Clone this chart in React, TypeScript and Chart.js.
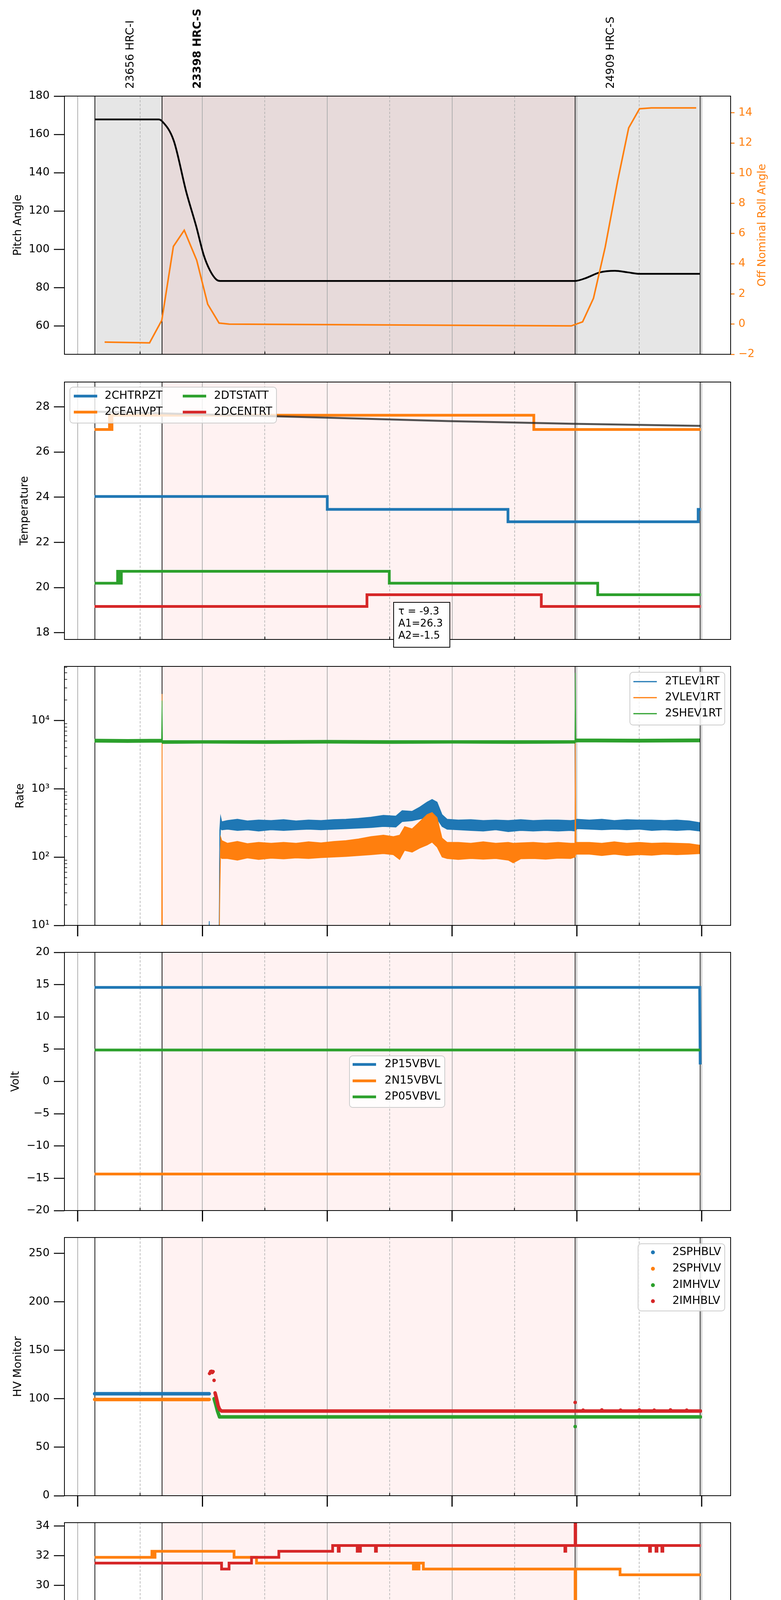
import { useEffect, useRef } from 'react';
import { Chart, registerables } from 'chart.js';
Chart.register(...registerables);

const FONT = '"DejaVu Sans", sans-serif';
const BLUE = '#1f77b4';
const ORANGE = '#ff7f0e';
const GREEN = '#2ca02c';
const RED = '#d62728';

Chart.defaults.font.family = FONT;
Chart.defaults.font.size = 28;
Chart.defaults.color = '#000';

// time axis in hours after 08:00
const X_MIN = -0.106;
const X_MAX = 5.232;
const gridT = [0, 0.5, 1, 1.5, 2, 2.5, 3, 3.5, 4, 4.5, 5];
const hourLabels = ['08h', '09h', '10h', '11h', '12h', '13h'];
const halfLabel = '30';
const dateLabel = '2020-12-22 (357)';

// observations
const obsStart = [0.138, 0.676, 3.986];
const obsEnd = [0.676, 3.986, 4.988];
const obsNames = ['23656 HRC-I', '23398 HRC-S', '24909 HRC-S'];
const obsLabelT = [0.426, 0.964, 4.274];
const focusObs = 1;

// panel 1: attitude
const pitchT = [0.135, 0.648, 0.676, 0.77, 0.87, 0.95, 1.01, 1.06, 1.11, 1.14, 3.986, 4.068, 4.186, 4.305, 4.405, 4.506, 4.984];
const pitchV = [167.8, 167.8, 166.9, 156.7, 130, 112, 97, 89, 84.3, 83.5, 83.5, 84.9, 88.0, 88.8, 88.0, 87.2, 87.2];
const rollT = [0.216, 0.576, 0.674, 0.767, 0.854, 0.954, 1.042, 1.133, 1.214, 3.955, 4.046, 4.133, 4.227, 4.327, 4.415, 4.502, 4.596, 4.956];
const rollV = [-1.19, -1.24, 0.25, 5.15, 6.22, 4.23, 1.32, 0.07, 0.0, -0.12, 0.15, 1.71, 5.1, 9.5, 13.0, 14.27, 14.33, 14.33];

// panel 2: temperature
const chtrpzT = [0.135, 2.0, 3.448, 4.972, 4.993];
const chtrpzV = [24.03, 23.46, 22.91, 23.46, 23.46];
const ceahvpT = [0.135, 0.255, 0.262, 0.275, 3.655, 4.993];
const ceahvpV = [27.0, 27.63, 27.0, 27.63, 27.0, 27.0];
const dtstatT = [0.135, 0.32, 0.335, 0.35, 2.497, 4.167, 4.993];
const dtstatV = [20.19, 20.72, 20.19, 20.72, 20.19, 19.68, 19.68];
const dcentrT = [0.135, 2.318, 3.715, 4.993];
const dcentrV = [19.16, 19.68, 19.16, 19.16];
const fitT = [0.136, 1.532, 2.0, 2.97, 3.986, 4.993];
const fitV = [27.79, 27.59, 27.52, 27.37, 27.25, 27.16];
const fitText = ['\u03c4 = -9.3', 'A1=26.3', 'A2=-1.5'];

// panel 3: rates (noise envelope low / high)
const tlevT = [1.05, 1.054, 1.058, 1.133, 1.138, 1.145, 1.155, 1.2, 1.28, 1.36, 1.45, 1.55, 1.65, 1.75, 1.85, 1.95, 2.05, 2.15, 2.25, 2.35, 2.45, 2.55, 2.6, 2.68, 2.74, 2.8, 2.84, 2.88, 2.92, 2.96, 3.05, 3.15, 3.25, 3.35, 3.45, 3.55, 3.65, 3.75, 3.85, 3.95, 3.985, 4.0, 4.1, 4.2, 4.3, 4.4, 4.5, 4.6, 4.7, 4.8, 4.9, 4.985];
const tlevLo = [5, 11.5, 5, 5, 120, 260, 250, 255, 245, 250, 240, 250, 245, 250, 255, 250, 255, 260, 265, 270, 280, 275, 330, 340, 360, 380, 400, 360, 280, 255, 250, 245, 240, 250, 235, 245, 240, 245, 240, 245, 240, 260, 255, 250, 255, 250, 255, 245, 250, 245, 250, 240];
const tlevHi = [5, 11.5, 5, 5, 250, 400, 330, 345, 360, 340, 350, 345, 355, 340, 350, 345, 355, 360, 370, 385, 410, 400, 480, 470, 540, 640, 700, 640, 420, 360, 350, 355, 345, 350, 345, 355, 345, 350, 350, 345, 350, 360, 350, 360, 345, 355, 350, 350, 345, 350, 340, 320];
const vlevT = [0.672, 0.676, 0.68, 1.133, 1.138, 1.145, 1.155, 1.2, 1.28, 1.36, 1.45, 1.55, 1.65, 1.75, 1.85, 1.95, 2.05, 2.15, 2.25, 2.35, 2.45, 2.53, 2.58, 2.62, 2.68, 2.74, 2.8, 2.84, 2.88, 2.92, 2.96, 3.05, 3.15, 3.25, 3.35, 3.45, 3.49, 3.55, 3.65, 3.75, 3.85, 3.95, 3.984, 3.988, 3.992, 4.1, 4.2, 4.3, 4.4, 4.5, 4.6, 4.7, 4.8, 4.9, 4.985];
const vlevLo = [1, 1, 1, 1, 20, 100, 95, 95, 90, 97, 92, 96, 94, 97, 95, 98, 100, 102, 105, 108, 112, 108, 92, 125, 118, 135, 150, 165, 140, 100, 95, 92, 95, 93, 95, 90, 82, 94, 95, 93, 96, 95, 100, 100, 110, 110, 105, 110, 105, 108, 106, 110, 108, 110, 112];
const vlevHi = [1, 24500, 1, 1, 30, 200, 175, 160, 170, 158, 165, 160, 165, 160, 168, 162, 170, 175, 185, 200, 210, 200, 210, 280, 260, 330, 420, 450, 380, 190, 165, 165, 160, 168, 160, 165, 160, 162, 165, 160, 165, 160, 160, 5000, 165, 165, 160, 168, 160, 165, 160, 162, 160, 158, 150];
const shevT = [0.135, 0.4, 0.672, 0.676, 0.68, 1.0, 1.5, 2.0, 2.5, 3.0, 3.5, 3.984, 3.988, 3.992, 4.5, 4.985];
const shevLo = [4800, 4750, 4800, 4700, 4600, 4650, 4600, 4650, 4600, 4650, 4600, 4650, 4700, 4850, 4800, 4850];
const shevHi = [5350, 5300, 5350, 19600, 5100, 5100, 5100, 5150, 5100, 5100, 5100, 5100, 50000, 5400, 5350, 5400];

// panel 4: voltages
const p15T = [0.135, 4.984, 4.988];
const p15V = [14.57, 14.57, 2.63];
const n15T = [0.135, 4.988];
const n15V = [-14.34, -14.34];
const p05T = [0.135, 4.988];
const p05V = [4.87, 4.87];

// panel 5: HV monitors
const sphbT = [0.136, 1.054];
const sphbV = [105.1, 105.1];
const sphvT = [0.136, 1.054];
const sphvV = [99.2, 99.2];
const imhvlT = [1.093, 1.105, 1.121, 1.137, 4.99];
const imhvlV = [100, 94.7, 87, 81.2, 81.2];
const imhvlOutT = [3.986];
const imhvlOutV = [71.3];
const imhblT = [1.101, 1.109, 1.117, 1.125, 1.137, 1.153, 4.99];
const imhblV = [106, 102, 97.7, 93, 89, 87.3, 87.3];
const imhblOutT = [1.057, 1.065, 1.073, 1.079, 1.085, 1.093, 3.986, 4.05, 4.2, 4.35, 4.5, 4.62, 4.75, 4.88];
const imhblOutV = [126, 128, 128.3, 127, 128, 118.9, 96.2, 88.2, 88.4, 88.2, 88.4, 88.2, 88.4, 88.2];

// panel 6: detector temperatures
const spinT = [0.136, 3.986, 3.992, 4.993];
const spinV = [18.28, 16.0, 18.28, 18.28];
const sphvaT = [0.136, 0.595, 0.605, 0.62, 1.253, 1.433, 2.69, 2.7, 2.72, 2.735, 2.77, 3.986, 3.99, 4.346, 4.993];
const sphvaV = [31.89, 32.3, 31.89, 32.3, 31.89, 31.5, 31.1, 31.5, 31.1, 31.5, 31.1, 28.65, 31.1, 30.71, 30.71];
const iminT = [0.136, 0.2155, 0.225, 0.235, 0.25, 0.258, 0.3, 0.31, 3.535, 3.545, 3.645, 3.655, 3.699, 3.71, 3.73, 3.74, 3.787, 3.986, 3.99, 4.993];
const iminV = [19.63, 20.3, 19.63, 20.3, 19.63, 20.3, 19.63, 20.3, 19.63, 20.3, 19.63, 20.3, 19.63, 20.3, 19.63, 20.3, 19.63, 28.65, 19.63, 19.63];
const imhvaT = [0.136, 1.153, 1.213, 1.393, 1.612, 2.043, 2.088, 2.096, 2.24, 2.248, 2.258, 2.266, 2.386, 2.394, 3.904, 3.911, 3.986, 3.99, 4.582, 4.59, 4.634, 4.642, 4.681, 4.689, 4.993];
const imhvaV = [31.5, 31.1, 31.5, 31.89, 32.3, 32.69, 32.3, 32.69, 32.3, 32.69, 32.3, 32.69, 32.3, 32.69, 32.3, 32.69, 35.0, 32.69, 32.3, 32.69, 32.3, 32.69, 32.3, 32.69, 32.69];

// panel 7: FEA temperatures
const fhtT = [0.136, 1.86, 2.682, 3.556, 4.498, 4.993];
const fhtV = [23.48, 22.91, 22.37, 21.81, 21.26, 21.26];
const fradT = [0.136, 0.794, 0.854, 1.161, 1.453, 1.912, 2.57, 3.348, 4.194, 4.905, 4.993];
const fradV = [19.17, 19.72, 19.17, 18.65, 18.15, 17.65, 17.16, 16.67, 16.19, 15.71, 15.71];
const fepT = [0.136, 1.812, 3.169, 3.986, 3.99, 4.566, 4.993];
const fepV = [25.39, 24.63, 23.87, 28.0, 23.87, 23.13, 23.13];
const fe00T = [0.136, 1.257, 1.262, 1.313, 1.318, 1.421, 1.426, 1.497, 1.502, 1.632, 1.637, 1.68, 1.685, 1.716, 1.721, 1.852, 1.857, 1.88, 1.885, 1.92, 1.925, 2.043, 2.243, 2.248, 2.474, 2.479, 2.658, 2.857, 2.862, 2.913, 2.918, 3.308, 3.448, 3.453, 3.532, 3.537, 3.986, 3.99, 4.015, 4.02, 4.653, 4.697, 4.702, 4.993];
const fe00V = [23.3, 22.91, 23.3, 24.35, 23.3, 23.68, 23.0, 24.35, 23.0, 21.04, 23.0, 22.6, 23.0, 22.6, 23.0, 22.3, 23.0, 21.96, 23.0, 21.96, 23.0, 22.65, 22.3, 22.65, 23.04, 22.65, 22.35, 22.7, 22.35, 23.04, 22.35, 22.04, 22.7, 22.04, 21.65, 22.04, 14.0, 21.71, 22.39, 21.71, 21.41, 21.76, 21.41, 21.41];

const zip = (t: number[], v: number[]) => t.map((x, i) => ({ x, y: v[i] }));

function step(label: string, t: number[], v: number[], color: string, width = 7, stepped: any = true) {
  return { label, data: zip(t, v), borderColor: color, backgroundColor: color, borderWidth: width, pointRadius: 0, fill: false, stepped };
}

function band(label: string, t: number[], lo: number[], hi: number[], color: string) {
  return [
    { label: label + '-lo', data: zip(t, lo), borderColor: color, borderWidth: 1.5, pointRadius: 0, fill: false },
    { label, data: zip(t, hi), borderColor: color, backgroundColor: color, borderWidth: 1.5, pointRadius: 0, fill: '-1' },
  ];
}

function dots(label: string, t: number[], v: number[], color: string) {
  return { label, data: zip(t, v), borderColor: color, backgroundColor: color, borderWidth: 9, borderCapStyle: 'round', borderJoinStyle: 'round', pointRadius: 0, fill: false };
}

function loose(label: string, t: number[], v: number[], color: string) {
  return { label, data: zip(t, v), showLine: false, pointRadius: 4.5, pointBorderWidth: 0, pointBackgroundColor: color, borderColor: color };
}

const one = (rows: number[]) => rows.map((_, i) => [0, i]);

const panels: any[] = [
  {
    top: 246, bottom: 907, cTop: 0, cBot: 945, yMin: 45.2, yMax: 180, yTicks: [60, 80, 100, 120, 140, 160, 180],
    title: 'Pitch Angle', titleX: 47, grey: true, obsText: true, right: true,
    datasets: [
      { label: 'Pitch', data: zip(pitchT, pitchV), borderColor: '#000', borderWidth: 4.5, pointRadius: 0, cubicInterpolationMode: 'monotone', yAxisID: 'y' },
      { label: 'Roll', data: zip(rollT, rollV), borderColor: ORANGE, borderWidth: 4, pointRadius: 0, yAxisID: 'y1' },
    ],
  },
  {
    top: 978, bottom: 1637, cTop: 940, cBot: 1690, yMin: 17.7, yMax: 29.1, yTicks: [18, 20, 22, 24, 26, 28],
    title: 'Temperature', titleX: 64, note: true,
    datasets: [
      step('2CHTRPZT', chtrpzT, chtrpzV, BLUE),
      step('2CEAHVPT', ceahvpT, ceahvpV, ORANGE),
      step('2DTSTATT', dtstatT, dtstatV, GREEN),
      step('2DCENTRT', dcentrT, dcentrV, RED),
      { label: 'fit', data: zip(fitT, fitV), borderColor: 'rgba(40,40,40,0.8)', borderWidth: 5, pointRadius: 0 },
    ],
    items: [['2CHTRPZT', BLUE], ['2CEAHVPT', ORANGE], ['2DTSTATT', GREEN], ['2DCENTRT', RED]],
    legend: { box: [179, 991, 708, 1083], cols: [[189, 268], [468, 548]], rows: [1014, 1055], slots: [[0, 0], [0, 1], [1, 0], [1, 1]], lw: 7 },
  },
  {
    top: 1706, bottom: 2369, cTop: 1670, cBot: 2420, yMin: 10, yMax: 62000, yTicks: [10, 100, 1000, 10000], log: true,
    title: 'Rate', titleX: 53, major: true,
    datasets: [
      ...band('2TLEV1RT', tlevT, tlevLo, tlevHi, BLUE),
      ...band('2VLEV1RT', vlevT, vlevLo, vlevHi, ORANGE),
      ...band('2SHEV1RT', shevT, shevLo, shevHi, GREEN),
    ],
    items: [['2TLEV1RT', BLUE], ['2VLEV1RT', ORANGE], ['2SHEV1RT', GREEN]],
    legend: { box: [1613, 1721, 1856, 1856], cols: [[1622, 1703]], rows: [1745, 1786, 1827], slots: one([0, 1, 2]), lw: 3 },
  },
  {
    top: 2438, bottom: 3099, cTop: 2400, cBot: 3150, yMin: -20, yMax: 20, yTicks: [-20, -15, -10, -5, 0, 5, 10, 15, 20],
    title: 'Volt', titleX: 41, major: true,
    datasets: [
      step('2P15VBVL', p15T, p15V, BLUE, 7, false),
      step('2N15VBVL', n15T, n15V, ORANGE, 7, false),
      step('2P05VBVL', p05T, p05V, GREEN, 7, false),
    ],
    items: [['2P15VBVL', BLUE], ['2N15VBVL', ORANGE], ['2P05VBVL', GREEN]],
    legend: { box: [895, 2703, 1139, 2835], cols: [[903, 985]], rows: [2725, 2767, 2808], slots: one([0, 1, 2]), lw: 7 },
  },
  {
    top: 3168, bottom: 3829, cTop: 3130, cBot: 3880, yMin: 0, yMax: 266.2, yTicks: [0, 50, 100, 150, 200, 250],
    title: 'HV Monitor', titleX: 47, major: true,
    datasets: [
      dots('2SPHBLV', sphbT, sphbV, BLUE),
      dots('2SPHVLV', sphvT, sphvV, ORANGE),
      dots('2IMHVLV', imhvlT, imhvlV, GREEN),
      loose('2IMHVLV-x', imhvlOutT, imhvlOutV, GREEN),
      dots('2IMHBLV', imhblT, imhblV, RED),
      loose('2IMHBLV-x', imhblOutT, imhblOutV, RED),
    ],
    items: [['2SPHBLV', BLUE], ['2SPHVLV', ORANGE], ['2IMHVLV', GREEN], ['2IMHBLV', RED]],
    legend: { box: [1634, 3184, 1856, 3356], cols: [[1672, 1722]], rows: [3206, 3248, 3290, 3331], slots: one([0, 1, 2, 3]), dot: true },
  },
  {
    top: 3898, bottom: 4559, cTop: 3860, cBot: 4610, yMin: 16.8, yMax: 34.23, yTicks: [18, 20, 22, 24, 26, 28, 30, 32, 34],
    title: 'Detector Temp', titleX: 64, major: true,
    datasets: [
      step('2SPINATM', spinT, spinV, BLUE),
      step('2SPHVATM', sphvaT, sphvaV, ORANGE),
      step('2IMINATM', iminT, iminV, GREEN),
      step('2IMHVATM', imhvaT, imhvaV, RED),
    ],
    items: [['2SPINATM', BLUE], ['2SPHVATM', ORANGE], ['2IMINATM', GREEN], ['2IMHVATM', RED]],
    legend: { box: [1610, 4142, 1856, 4318], cols: [[1617, 1696]], rows: [4159, 4201, 4243, 4285], slots: one([0, 1, 2, 3]), lw: 7 },
  },
  {
    top: 4630, bottom: 5290, cTop: 4590, cBot: 5400, yMin: 15.19, yMax: 26.87, yTicks: [16, 18, 20, 22, 24, 26],
    title: 'FEA Temp', titleX: 64, major: true, bottomLabels: true,
    datasets: [
      step('2FHTRMZT', fhtT, fhtV, BLUE),
      step('2FRADPYT', fradT, fradV, ORANGE),
      step('2FEPRATM', fepT, fepV, GREEN),
      step('2FE00ATM', fe00T, fe00V, RED),
    ],
    items: [['2FHTRMZT', BLUE], ['2FRADPYT', ORANGE], ['2FEPRATM', GREEN], ['2FE00ATM', RED]],
    legend: { box: [179, 5102, 431, 5278], cols: [[189, 268]], rows: [5124, 5166, 5208, 5250], slots: one([0, 1, 2, 3]), lw: 7 },
  },
];

const SUP: Record<number, string> = { 10: '10\u00b9', 100: '10\u00b2', 1000: '10\u00b3', 10000: '10\u2074' };

function fmt(p: any, v: number) {
  if (p.log) return SUP[v] || '';
  return v < 0 ? '\u2212' + Math.abs(v) : String(v);
}

function vline(ctx: any, x: number, y0: number, y1: number, w: number, color: string) {
  ctx.beginPath();
  ctx.moveTo(x, y0);
  ctx.lineTo(x, y1);
  ctx.lineWidth = w;
  ctx.strokeStyle = color;
  ctx.stroke();
}

function drawLegend(ctx: any, p: any) {
  const L = p.legend;
  const off = p.cTop;
  const [x0, y0, x1, y1] = L.box;
  ctx.save();
  ctx.beginPath();
  ctx.roundRect(x0, y0 - off, x1 - x0, y1 - y0, 8);
  ctx.fillStyle = 'rgba(255,255,255,0.8)';
  ctx.fill();
  ctx.strokeStyle = '#cccccc';
  ctx.lineWidth = 2;
  ctx.stroke();
  ctx.font = `28px ${FONT}`;
  ctx.textBaseline = 'middle';
  ctx.textAlign = 'left';
  p.items.forEach((it: string[], i: number) => {
    const [c, r] = L.slots[i];
    const [hx, tx] = L.cols[c];
    const y = L.rows[r] - off;
    if (L.dot) {
      ctx.beginPath();
      ctx.arc(hx, y, 5, 0, Math.PI * 2);
      ctx.fillStyle = it[1];
      ctx.fill();
    } else {
      ctx.beginPath();
      ctx.moveTo(hx, y);
      ctx.lineTo(hx + 60, y);
      ctx.strokeStyle = it[1];
      ctx.lineWidth = L.lw;
      ctx.stroke();
    }
    ctx.fillStyle = '#000';
    ctx.fillText(it[0], tx, y);
  });
  ctx.restore();
}

function decor(p: any) {
  return {
    id: 'decor',
    beforeDraw(chart: any) {
      const { ctx, chartArea: a } = chart;
      const x = chart.scales.x;
      ctx.save();
      if (p.grey) {
        const g0 = x.getPixelForValue(obsStart[0]);
        const g1 = x.getPixelForValue(obsEnd[obsEnd.length - 1]);
        ctx.fillStyle = 'rgba(128,128,128,0.2)';
        ctx.fillRect(g0, a.top, g1 - g0, a.bottom - a.top);
      }
      const f0 = x.getPixelForValue(obsStart[focusObs]);
      const f1 = x.getPixelForValue(obsEnd[focusObs]);
      ctx.fillStyle = 'rgba(255,0,0,0.05)';
      ctx.fillRect(f0, a.top, f1 - f0, a.bottom - a.top);
      ctx.restore();
    },
    beforeDatasetsDraw(chart: any) {
      const { ctx, chartArea: a } = chart;
      const x = chart.scales.x;
      ctx.save();
      [...obsStart, obsEnd[obsEnd.length - 1]].forEach((t) => vline(ctx, x.getPixelForValue(t), a.top, a.bottom, 1.8, '#000'));
      ctx.restore();
    },
    afterDraw(chart: any) {
      const { ctx, chartArea: a } = chart;
      const x = chart.scales.x;
      const y = chart.scales.y;
      const off = p.cTop;
      ctx.save();
      ctx.strokeStyle = '#000';
      ctx.lineWidth = 2;
      ctx.strokeRect(a.left, a.top, a.right - a.left, a.bottom - a.top);

      gridT.forEach((t) => {
        const px = x.getPixelForValue(t);
        if (t % 1 === 0) {
          if (p.major) vline(ctx, px, a.bottom, a.bottom + 28, 3, '#000');
        } else {
          vline(ctx, px, a.bottom, a.bottom - 7, 2, '#000');
        }
      });

      if (p.log) {
        for (let d = 10; d <= 10000; d *= 10) {
          for (let k = 2; k <= 9; k++) {
            const v = k * d;
            if (v > p.yMax) break;
            const py = y.getPixelForValue(v);
            ctx.beginPath();
            ctx.moveTo(a.left, py);
            ctx.lineTo(a.left + 7, py);
            ctx.lineWidth = 1.5;
            ctx.strokeStyle = '#000';
            ctx.stroke();
          }
        }
      }

      ctx.fillStyle = '#000';
      ctx.font = `28px ${FONT}`;
      ctx.textAlign = 'center';
      ctx.textBaseline = 'middle';
      ctx.save();
      ctx.translate(p.titleX, (a.top + a.bottom) / 2);
      ctx.rotate(-Math.PI / 2);
      ctx.fillText(p.title, 0, 0);
      ctx.restore();

      if (p.right) {
        ctx.save();
        ctx.fillStyle = ORANGE;
        ctx.translate(1953, (a.top + a.bottom) / 2);
        ctx.rotate(-Math.PI / 2);
        ctx.fillText('Off Nominal Roll Angle', 0, 0);
        ctx.restore();
      }

      if (p.obsText) {
        obsNames.forEach((name, i) => {
          ctx.save();
          ctx.font = `${i === focusObs ? 'bold ' : ''}28px ${FONT}`;
          ctx.textAlign = 'left';
          ctx.translate(x.getPixelForValue(obsLabelT[i]), 227);
          ctx.rotate(-Math.PI / 2);
          ctx.fillText(name, 0, 0);
          ctx.restore();
        });
      }

      if (p.bottomLabels) {
        gridT.forEach((t) => {
          const px = x.getPixelForValue(t);
          if (t % 1 === 0) {
            ctx.font = `28px ${FONT}`;
            ctx.fillText(hourLabels[t], px, 5339 - off);
          } else {
            ctx.font = `18px ${FONT}`;
            ctx.fillText(halfLabel, px, 5306 - off);
          }
        });
        ctx.font = `28px ${FONT}`;
        ctx.fillText(dateLabel, (a.left + a.right) / 2, 5379 - off);
      }

      if (p.note) {
        ctx.fillStyle = '#fff';
        ctx.fillRect(1008, 1542 - off, 144, 115);
        ctx.strokeStyle = '#000';
        ctx.lineWidth = 2;
        ctx.strokeRect(1008, 1542 - off, 144, 115);
        ctx.fillStyle = '#000';
        ctx.font = `26px ${FONT}`;
        ctx.textAlign = 'left';
        fitText.forEach((s, i) => ctx.fillText(s, 1020, 1566 + i * 31 - off));
      }
      ctx.restore();

      if (p.legend) drawLegend(ctx, p);
    },
  };
}

function buildConfig(p: any): any {
  const n = p.datasets.length;
  const datasets = p.datasets.map((d: any, i: number) => ({ ...d, order: n - i }));
  const scales: any = {
    x: {
      type: 'linear',
      min: X_MIN,
      max: X_MAX,
      afterBuildTicks: (s: any) => { s.ticks = gridT.map((value) => ({ value })); },
      afterFit: (s: any) => { s.height = 0; },
      ticks: { display: false },
      grid: {
        color: '#b0b0b0',
        lineWidth: (c: any) => (c.tick && c.tick.value % 1 !== 0 ? 1.6 : 2),
        drawTicks: false,
      },
      border: { display: false, dash: (c: any) => (c.tick && c.tick.value % 1 !== 0 ? [6, 4] : []) },
    },
    y: {
      type: p.log ? 'logarithmic' : 'linear',
      min: p.yMin,
      max: p.yMax,
      afterBuildTicks: (s: any) => { s.ticks = p.yTicks.map((value: number) => ({ value })); },
      afterFit: (s: any) => { s.width = 165; },
      ticks: { color: '#000', padding: 11, autoSkip: false, font: { size: 28, family: FONT }, callback: (v: number) => fmt(p, v) },
      grid: { drawOnChartArea: false, drawTicks: true, tickLength: 27, tickWidth: 2.5, tickColor: '#000' },
      border: { display: false },
    },
  };
  if (p.right) {
    scales.y1 = {
      type: 'linear',
      position: 'right',
      min: -2,
      max: 15.11,
      afterBuildTicks: (s: any) => { s.ticks = [-2, 0, 2, 4, 6, 8, 10, 12, 14].map((value) => ({ value })); },
      afterFit: (s: any) => { s.width = 129; },
      ticks: { color: ORANGE, padding: 10, autoSkip: false, font: { size: 28, family: FONT }, callback: (v: number) => (v < 0 ? '\u2212' + Math.abs(v) : String(v)) },
      grid: { drawOnChartArea: false, drawTicks: true, tickLength: 10, tickWidth: 2.5, tickColor: ORANGE },
      border: { display: false },
    };
  }
  return {
    type: 'line',
    data: { datasets },
    options: {
      responsive: false,
      animation: false,
      devicePixelRatio: 1,
      events: [],
      layout: { padding: { top: p.top - p.cTop, bottom: p.cBot - p.bottom, left: 0, right: p.right ? 0 : 129 } },
      plugins: { legend: { display: false }, tooltip: { enabled: false } },
      scales,
    },
    plugins: [decor(p)],
  };
}

function Panel({ p }: { p: any }) {
  const ref = useRef<HTMLCanvasElement | null>(null);
  useEffect(() => {
    if (!ref.current) return;
    const c = new Chart(ref.current, buildConfig(p));
    return () => c.destroy();
  }, []);
  const h = p.cBot - p.cTop;
  return (
    <canvas
      ref={ref}
      width={2000}
      height={h}
      style={{ position: 'absolute', left: 0, top: p.cTop, width: 2000, height: h }}
    />
  );
}

export default function App() {
  // negative margin cancels the default 8px body margin so the figure sits at 0,0
  return (
    <div style={{ position: 'relative', margin: -8, width: 2000, height: 5400, background: '#fff' }}>
      {panels.map((p, i) => <Panel key={i} p={p} />)}
    </div>
  );
}
